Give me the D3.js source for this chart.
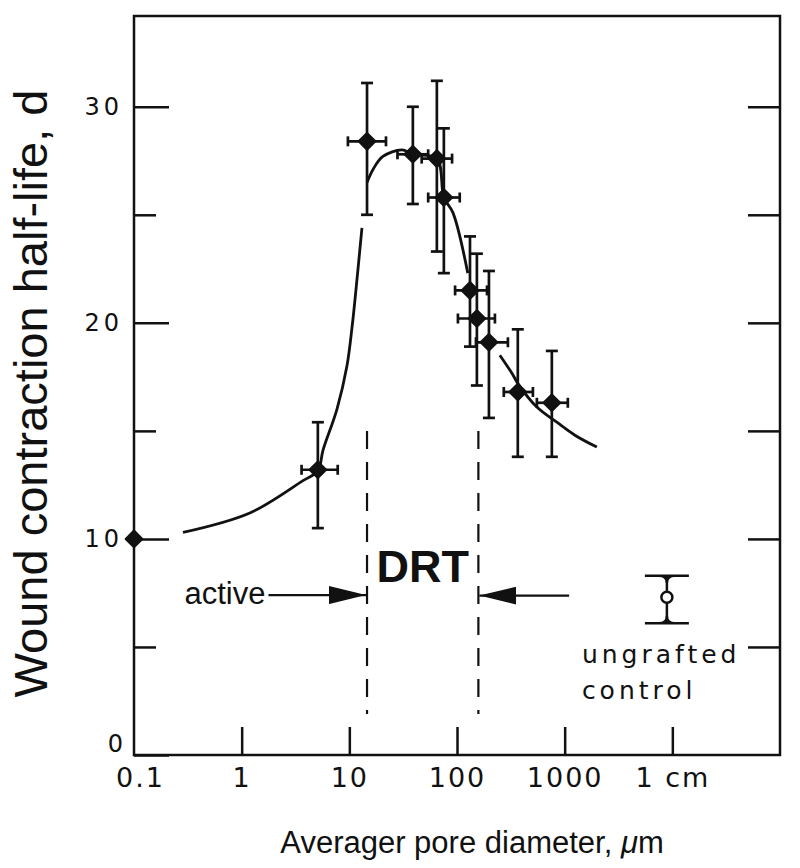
<!DOCTYPE html>
<html>
<head>
<meta charset="utf-8">
<script src="https://cdn.jsdelivr.net/npm/d3@7"></script>
<style>
  body { margin: 0; background: #fff; }
  svg text { fill: #111; }
</style>
</head>
<body>
<div id="chart"></div>
<script>
//////////////////////////////////////////////////////////////////////////////
// Data

// measured points: pore diameter (um) and half-life (days)
const poreSize = [0.1, 5.1, 14.6, 38.9, 65, 75.5, 132, 153, 198, 367, 760];
const halfLife = [10.0, 13.2, 28.4, 27.8, 27.6, 25.8, 21.5, 20.2, 19.1, 16.8, 16.3];
const poreLow  = [null, 3.6, 9.7, 28, 47, 54, 96, 102, 150, 272, 552];
const poreHigh = [null, 7.8, 21.9, 54, 90, 106, 190, 225, 297, 507, 1070];
const lifeLow  = [null, 10.5, 25.0, 25.5, 23.3, 22.3, 18.9, 17.1, 15.6, 13.8, 13.8];
const lifeHigh = [null, 15.4, 31.1, 30.0, 31.2, 29.0, 24.0, 23.2, 22.4, 19.7, 18.7];

// hand-drawn fit curve (null = break in the line)
const curvePore = [0.285, 1.19, 3.71, 5.11, 5.69, 7.67, 9.5, 10.6, 11.3, 13.1, null,
                   14.6, 16.6, 20.5, 30.8, 38.9, 65, 75.5, 91.6, 126, null,
                   250, 330, 367, 552, 845, 1245, 1990];
const curveLife = [10.3, 11.2, 12.7, 13.15, 14.1, 16.0, 18.0, 19.8, 21.1, 24.4, null,
                   26.5, 27.1, 27.7, 28.0, 27.8, 27.6, 25.8, 25.1, 22.3, null,
                   18.5, 17.6, 17.2, 16.1, 15.4, 14.8, 14.25];

// ungrafted control
const controlPore = 8900;
const controlLife = [6.1, 7.3, 8.3];   // low, mid, high

// DRT window
const drtBounds = [14.6, 158];
const drtSpan = [1.9, 15.0];
const arrowLife = 7.4;
const activeEnd = 1.7;     // where the "active" arrow starts
const rightArrowStart = 1100;

// axes
const xTicks = [0.1, 1, 10, 100, 1000, 10000];
const xTickLabels = ["0.1", "1", "10", "100", "1000", "1 cm"];
const yTicks = [0, 5, 10, 15, 20, 25, 30];

//////////////////////////////////////////////////////////////////////////////
// Canvas

const W = 800, H = 868;
const margin = {left: 134, top: 16, right: 20, bottom: 113};
const w = W - margin.left - margin.right;
const h = H - margin.top - margin.bottom;
const ink = "#111";
const tickFont = "'DejaVu Sans', sans-serif";
const textFont = "'Liberation Sans', Arial, sans-serif";

const svg = d3.select("#chart").append("svg")
    .attr("width", W)
    .attr("height", H);

const defs = svg.append("defs");
defs.append("marker")
    .attr("id", "head")
    .attr("viewBox", "0 0 37 18")
    .attr("refX", 37).attr("refY", 9)
    .attr("markerWidth", 37).attr("markerHeight", 18)
    .attr("markerUnits", "userSpaceOnUse")
    .attr("orient", "auto")
  .append("path")
    .attr("d", "M0,0 L37,9 L0,18 Z")
    .attr("fill", ink);

const g = svg.append("g")
    .attr("transform", `translate(${margin.left},${margin.top})`);

const x = d3.scaleLog().domain([0.1, 100000]).range([0, w]);
const y = d3.scaleLinear().domain([0, 34.2]).range([h, 0]);

//////////////////////////////////////////////////////////////////////////////
// Axes

const xAxis = d3.axisBottom(x)
    .tickValues(xTicks)
    .tickSizeInner(-28)
    .tickSizeOuter(0)
    .tickPadding(13)
    .tickFormat((d, i) => xTickLabels[i]);

g.append("g")
    .attr("transform", `translate(0,${h})`)
    .call(xAxis)
    .call(a => a.select(".domain").remove())
    .call(a => a.selectAll(".tick line")
        .attr("stroke", ink).attr("stroke-width", 2.5)
        .filter(d => d === 0.1).remove())
    .call(a => a.selectAll(".tick text")
        .attr("font-family", tickFont)
        .attr("font-size", 27)
        .attr("letter-spacing", 2)
        .attr("fill", ink))
    .call(a => a.selectAll(".tick").filter(d => d === 0.1).select("text")
        .attr("dx", 6));

const yAxis = d3.axisLeft(y)
    .tickValues(yTicks)
    .tickSizeInner(-35)
    .tickSizeOuter(0)
    .tickPadding(11)
    .tickFormat(d => d % 10 === 0 ? d : "");

g.append("g")
    .call(yAxis)
    .call(a => a.select(".domain").remove())
    .call(a => a.selectAll(".tick line")
        .attr("stroke", ink).attr("stroke-width", 2.5)
        .attr("x2", d => d % 10 === 0 ? 35 : 22))
    .call(a => a.selectAll(".tick text")
        .attr("font-family", tickFont)
        .attr("font-size", 24)
        .attr("letter-spacing", 4)
        .attr("fill", ink))
    .call(a => a.selectAll(".tick").filter(d => d === 0).select("text")
        .attr("y", -11)
        .attr("dx", 4));

const yAxisRight = d3.axisRight(y)
    .tickValues(yTicks.filter(d => d > 0))
    .tickSizeInner(-32)
    .tickSizeOuter(0)
    .tickFormat("");

g.append("g")
    .attr("transform", `translate(${w},0)`)
    .call(yAxisRight)
    .call(a => a.select(".domain").remove())
    .call(a => a.selectAll(".tick line").attr("stroke", ink).attr("stroke-width", 2.5));

// frame
g.append("rect")
    .attr("width", w)
    .attr("height", h)
    .attr("fill", "none")
    .attr("stroke", ink)
    .attr("stroke-width", 2.5);

// axis titles
svg.append("text")
    .attr("transform", `translate(47,${margin.top + h / 2 + 8}) rotate(-90)`)
    .attr("text-anchor", "middle")
    .attr("font-family", textFont)
    .attr("font-size", 47)
    .text("Wound contraction half-life, d");

const xTitle = svg.append("text")
    .attr("x", 472)
    .attr("y", 853)
    .attr("text-anchor", "middle")
    .attr("font-family", textFont)
    .attr("font-size", 31);
xTitle.append("tspan").text("Averager pore diameter, ");
xTitle.append("tspan").attr("font-style", "italic").text("\u03bc");
xTitle.append("tspan").text("m");

//////////////////////////////////////////////////////////////////////////////
// DRT window, arrows and labels

g.selectAll("line.drt")
    .data(drtBounds)
    .join("line")
    .attr("class", "drt")
    .attr("x1", d => x(d)).attr("x2", d => x(d))
    .attr("y1", y(drtSpan[1])).attr("y2", y(drtSpan[0]))
    .attr("stroke", ink)
    .attr("stroke-width", 2.2)
    .attr("stroke-dasharray", "18,13");

g.append("text")
    .attr("x", (x(drtBounds[0]) + x(drtBounds[1])) / 2)
    .attr("y", y(arrowLife) - 13)
    .attr("text-anchor", "middle")
    .attr("font-family", textFont)
    .attr("font-weight", "bold")
    .attr("font-size", 45)
    .text("DRT");

g.append("text")
    .attr("x", x(activeEnd) - 1)
    .attr("y", y(arrowLife) + 9)
    .attr("text-anchor", "end")
    .attr("font-family", textFont)
    .attr("font-size", 31)
    .text("active");

g.append("line")
    .attr("x1", x(activeEnd) + 2).attr("x2", x(drtBounds[0]) - 1)
    .attr("y1", y(arrowLife)).attr("y2", y(arrowLife))
    .attr("stroke", ink).attr("stroke-width", 2.2)
    .attr("marker-end", "url(#head)");

g.append("line")
    .attr("x1", x(rightArrowStart)).attr("x2", x(drtBounds[1]) + 1)
    .attr("y1", y(arrowLife) + 0.5).attr("y2", y(arrowLife) + 0.5)
    .attr("stroke", ink).attr("stroke-width", 2.2)
    .attr("marker-end", "url(#head)");

//////////////////////////////////////////////////////////////////////////////
// Fit curve

const curveData = curvePore.map((p, i) => ({p: p, v: curveLife[i]}));
const line = d3.line()
    .defined(d => d.p !== null)
    .x(d => x(d.p))
    .y(d => y(d.v))
    .curve(d3.curveCatmullRom);

g.append("path")
    .datum(curveData)
    .attr("d", line)
    .attr("fill", "none")
    .attr("stroke", ink)
    .attr("stroke-width", 2.8);

//////////////////////////////////////////////////////////////////////////////
// Points with error bars

const points = poreSize.map((p, i) => ({
  p: p, v: halfLife[i],
  pLo: poreLow[i], pHi: poreHigh[i], vLo: lifeLow[i], vHi: lifeHigh[i]
}));

const pt = g.append("g")
    .selectAll("g")
    .data(points)
    .join("g")
    .attr("stroke", ink)
    .attr("stroke-width", 2.7);

const bars = pt.filter(d => d.vLo !== null);

bars.append("line")
    .attr("x1", d => x(d.p)).attr("x2", d => x(d.p))
    .attr("y1", d => y(d.vLo)).attr("y2", d => y(d.vHi));
bars.append("line")
    .attr("x1", d => x(d.pLo)).attr("x2", d => x(d.pHi))
    .attr("y1", d => y(d.v)).attr("y2", d => y(d.v));
bars.selectAll("line.ycap")
    .data(d => [[d.p, d.vLo], [d.p, d.vHi]])
    .join("line")
    .attr("class", "ycap")
    .attr("x1", d => x(d[0]) - 6).attr("x2", d => x(d[0]) + 6)
    .attr("y1", d => y(d[1])).attr("y2", d => y(d[1]));
bars.selectAll("line.xcap")
    .data(d => [[d.pLo, d.v], [d.pHi, d.v]])
    .join("line")
    .attr("class", "xcap")
    .attr("x1", d => x(d[0])).attr("x2", d => x(d[0]))
    .attr("y1", d => y(d[1]) - 5).attr("y2", d => y(d[1]) + 5);

pt.append("path")
    .attr("transform", d => `translate(${x(d.p)},${y(d.v)}) rotate(45)`)
    .attr("d", d3.symbol(d3.symbolSquare, 140))
    .attr("fill", ink)
    .attr("stroke-width", 2)
    .attr("stroke-linejoin", "round");

//////////////////////////////////////////////////////////////////////////////
// Ungrafted control

const ctrl = g.append("g")
    .attr("stroke", ink)
    .attr("stroke-width", 2.5)
    .attr("fill", "none");

ctrl.append("line")
    .attr("x1", x(controlPore)).attr("x2", x(controlPore))
    .attr("y1", y(controlLife[0])).attr("y2", y(controlLife[2]));
ctrl.selectAll("path.cap")
    .data([controlLife[0], controlLife[2]])
    .join("path")
    .attr("class", "cap")
    .attr("d", (d, i) => {
      const cx = x(controlPore), cy = y(d), s = i === 0 ? -1 : 1;
      return `M${cx - 22},${cy} L${cx + 22},${cy} M${cx - 8},${cy} Q${cx},${cy} ${cx},${cy + s * 7} Q${cx},${cy} ${cx + 8},${cy}`;
    });
ctrl.append("circle")
    .attr("cx", x(controlPore))
    .attr("cy", y(controlLife[1]))
    .attr("r", 5.5)
    .attr("fill", "#fff");

const ctrlLabel = g.append("text")
    .attr("font-family", tickFont)
    .attr("font-size", 25)
    .attr("letter-spacing", 4);
ctrlLabel.append("tspan")
    .attr("x", x(controlPore) - 85).attr("y", y(controlLife[1]) + 66)
    .text("ungrafted");
ctrlLabel.append("tspan")
    .attr("x", x(controlPore) - 85).attr("y", y(controlLife[1]) + 102)
    .text("control");
</script>
</body>
</html>
